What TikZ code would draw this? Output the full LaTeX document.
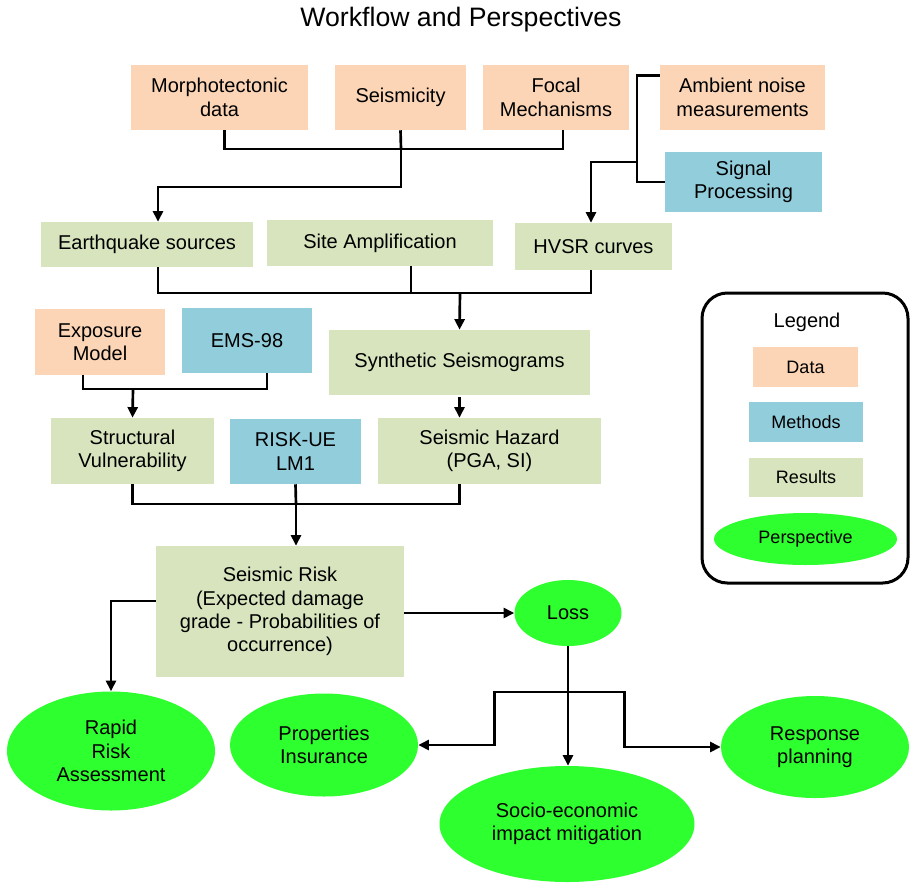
\documentclass[tikz,border=0pt]{standalone}
\usepackage{fontspec}
\setmainfont{Liberation Sans}
\usetikzlibrary{arrows.meta,calc,shapes.geometric}

\definecolor{datacol}{HTML}{FBD5B5}
\definecolor{methodcol}{HTML}{92CDDC}
\definecolor{resultcol}{HTML}{D7E4BD}
\definecolor{perscol}{HTML}{2EFF2E}

\begin{document}
\begin{tikzpicture}[x=0.75pt,y=-0.75pt,
	sz/.style 2 args={minimum width=#1*0.75pt,minimum height=#2*0.75pt},
	box/.style={rectangle,inner sep=0pt,align=center,font=\fontsize{15}{17.5}\selectfont},
	data/.style={box,fill=datacol},
	method/.style={box,fill=methodcol},
	result/.style={box,fill=resultcol},
	persp/.style={ellipse,inner sep=0pt,fill=perscol,align=center,font=\fontsize{15}{17.5}\selectfont},
	small/.style={font=\fontsize{13.5}{16}\selectfont},
	link/.style={line width=2pt},
	arr/.style={line width=2pt,-{Triangle[length=8pt,width=7.5pt]}}]
	
	\useasboundingbox (0,0) rectangle (910,882);
	
	\node[font=\fontsize{20}{24}\selectfont] (title) at (461,20) {Workflow and Perspectives};
	
	\node[data,sz={177}{65}] (morph) at (219.5,97.5) {Morphotectonic\\data};
	\node[data,sz={131}{65}] (seis) at (400.5,97.5) {Seismicity};
	\node[data,sz={146}{65}] (focal) at (556,97.5) {Focal\\Mechanisms};
	\node[data,sz={165}{65}] (ambient) at (742.5,97.5) {Ambient noise\\measurements};
	\node[method,sz={157}{60}] (signal) at (743.5,182) {Signal\\Processing};
	
	\node[result,sz={212}{45}] (quake) at (147,244.5) {Earthquake sources};
	\node[result,sz={226}{46}] (site) at (380,243) {Site Amplification};
	\node[result,sz={157}{47}] (hvsr) at (593.5,246.5) {HVSR curves};
	
	\node[data,sz={130}{66}] (expo) at (100,342) {Exposure\\Model};
	\node[method,sz={130}{65}] (ems) at (247,340.5) {EMS-98};
	\node[result,sz={261}{65}] (synth) at (459.5,362.5) {Synthetic Seismograms};
	
	\node[result,sz={163}{66}] (struct) at (132.5,451) {Structural\\Vulnerability};
	\node[method,sz={131}{65}] (riskue) at (295.5,451.5) {RISK-UE\\LM1};
	\node[result,sz={223}{66}] (hazard) at (489.5,451) {Seismic Hazard\\(PGA, SI)};
	
	\node[result,sz={248}{131}] (risk) at (280,611.5) {Seismic Risk\\(Expected damage\\grade - Probabilities of\\occurrence)};
	\node[persp,sz={107}{66}] (loss) at (568,613) {Loss};
	
	\node[persp,sz={208}{119}] (rapid) at (111,751) {Rapid\\Risk\\Assessment};
	\node[persp,sz={188}{103}] (insur) at (324,745) {Properties\\Insurance};
	\node[persp,sz={188}{102}] (resp) at (815,747) {Response\\planning};
	\node[persp,sz={255}{116}] (socio) at (567,824) {Socio-economic\\impact mitigation};
	
	\node[draw,line width=2.25pt,rounded corners=19pt,sz={206}{290}] (legend) at (805,438) {};
	\node[font=\fontsize{15}{18}\selectfont] (legtitle) at (807,322) {Legend};
	\node[data,small,sz={105}{40}] (lgdata) at (805.5,367) {Data};
	\node[method,small,sz={114}{40}] (lgmeth) at (806,422) {Methods};
	\node[result,small,sz={114}{39}] (lgres) at (806,477.5) {Results};
	\node[persp,small,sz={183}{52}] (lgpers) at (805.5,539) {Perspective};
	
	\coordinate (j1) at (401,149);
	\coordinate (j2) at (637,162);
	\coordinate (j3) at (460,293);
	\coordinate (j4) at (133,389);
	\coordinate (j5) at (296,504);
	\coordinate (j6) at (568,692);
	
	\draw[link] ($(morph.south)+(5,0)$) |- (j1) -| ($(focal.south)+(7,0)$);
	\draw[link] (seis.south) -- (j1);
	\draw[arr] (j1) -- ++(0,38) -| ($(quake.north)+(11,0)$);
	
	\draw[link] ($(ambient.north west)+(0,11)$) -| (j2) |- (signal.west);
	\draw[arr] (j2) -| ($(hvsr.north)+(-2.5,0)$);
	
	\draw[link] ($(quake.south)+(11,0)$) |- (j3) -| ($(hvsr.south)+(-2.5,0)$);
	\draw[link] ($(site.south)+(31,0)$) -- ++(0,27);
	\draw[arr] (j3) -- (synth.north);
	
	\draw[link] ($(expo.south)+(-17,0)$) |- (j4) -| ($(ems.south)+(20,0)$);
	\draw[arr] (j4) -- (struct.north);
	\draw[arr] ($(synth.south)+(0,2)$) -- (synth.south |- hazard.north);
	
	\draw[link] (struct.south) |- (j5) -| (synth.south |- hazard.south);
	\draw[link] (riskue.south) -- (j5);
	\draw[arr] (j5) -- (j5 |- risk.north);
	
	\draw[arr] ($(risk.west)+(0,-10.5)$) -| (rapid.north);
	\draw[arr] (loss.west -| risk.east) -- (loss.west);
	
	\draw[arr] (loss.south) -- (loss.south |- socio.north);
	\draw[arr] (j6) -| ($(insur.east)+(76,0)$) -- (insur.east);
	\draw[arr] (j6) -| ($(resp.west)+(-96,0)$) -- (resp.west);
	
\end{tikzpicture}
\end{document}
